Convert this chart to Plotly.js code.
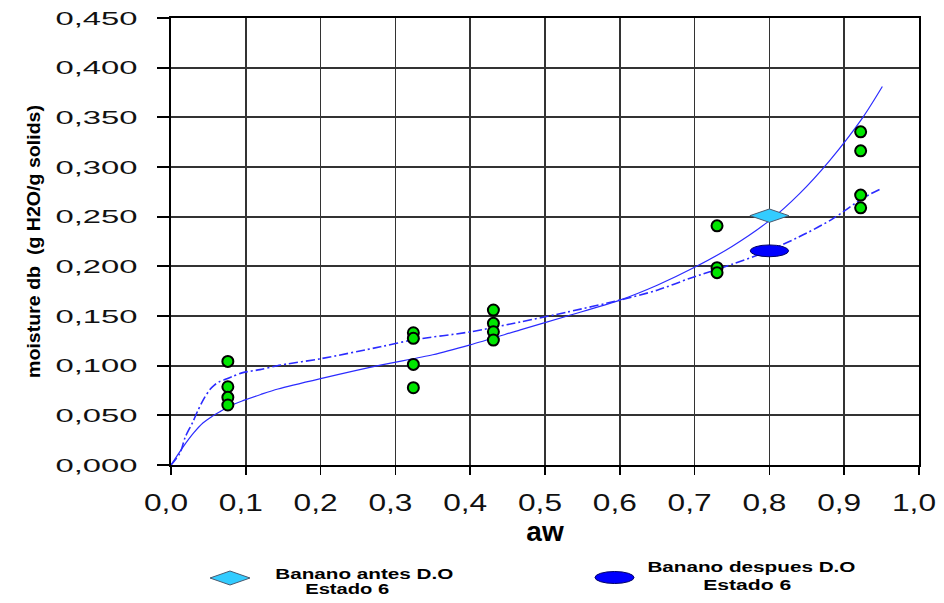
<!DOCTYPE html>
<html>
<head>
<meta charset="utf-8">
<script src="https://cdn.plot.ly/plotly-3.0.1.min.js"></script>
<style>
  html, body { margin: 0; padding: 0; background: #ffffff; }
  #chart { width: 944px; height: 603px; }
</style>
</head>
<body>
<div id="chart"></div>
<script>
// ---------------- DATA ----------------
// experimental points (aw, moisture db)
const expAw = [0.076, 0.076, 0.076, 0.076,
               0.324, 0.324, 0.324, 0.324,
               0.431, 0.431, 0.431, 0.431,
               0.730, 0.730, 0.730,
               0.922, 0.922, 0.922, 0.922];
const expMoisture = [0.1043, 0.0788, 0.0681, 0.0604,
                     0.1331, 0.1275, 0.1013, 0.0778,
                     0.1560, 0.1426, 0.1341, 0.1258,
                     0.2408, 0.1986, 0.1936,
                     0.3354, 0.3163, 0.2717, 0.2589];

// fitted isotherm (solid line)
const fitSolidAw = [0.000, 0.016, 0.030, 0.043, 0.055, 0.066, 0.080, 0.097, 0.120, 0.143,
                    0.200, 0.280, 0.350, 0.400, 0.467, 0.530, 0.600, 0.650, 0.700, 0.750,
                    0.800, 0.840, 0.880, 0.925, 0.951];
const fitSolidMoisture = [0.000, 0.018, 0.032, 0.0425, 0.049, 0.054, 0.060, 0.065, 0.071, 0.0765,
                          0.087, 0.1006, 0.111, 0.121, 0.136, 0.150, 0.166, 0.181, 0.199, 0.220,
                          0.246, 0.273, 0.306, 0.350, 0.381];

// second fitted isotherm (dash-dot line)
const fitDashAw = [0.000, 0.012, 0.019, 0.029, 0.036, 0.045, 0.052, 0.058, 0.064, 0.072,
                   0.082, 0.096, 0.119, 0.142, 0.200, 0.280, 0.324, 0.400, 0.467, 0.530,
                   0.600, 0.650, 0.694, 0.750, 0.800, 0.850, 0.885, 0.925, 0.948];
const fitDashMoisture = [0.000, 0.012, 0.028, 0.043, 0.055, 0.068, 0.076, 0.0805, 0.0835, 0.086,
                         0.089, 0.093, 0.096, 0.100, 0.107, 0.119, 0.126, 0.134, 0.144, 0.154,
                         0.166, 0.176, 0.188, 0.202, 0.216, 0.2335, 0.248, 0.2686, 0.2777];

// single samples
const antesLabel = "Banano antes D.O";
const antesSub = "Estado 6";
const antesAw = [0.80];
const antesMoisture = [0.251];

const despuesLabel = "Banano despues D.O";
const despuesSub = "Estado 6";
const despuesAw = [0.80];
const despuesMoisture = [0.2156];

const xTickVals = [0, 0.1, 0.2, 0.3, 0.4, 0.5, 0.6, 0.7, 0.8, 0.9, 1.0];
const yTickVals = [0, 0.05, 0.1, 0.15, 0.2, 0.25, 0.3, 0.35, 0.4, 0.45];

// ---------------- LAYOUT HELPERS ----------------
const W = 944, H = 603;
const M = { l: 171, r: 25, t: 18, b: 138 };
const plotW = W - M.l - M.r, plotH = H - M.t - M.b;
const X_RANGE = [0, 1], Y_RANGE = [0, 0.45];
const px = p => (p - M.l) / plotW;           // pixel -> paper x
const py = p => (H - M.b - p) / plotH;       // pixel -> paper y
const dxPx = p => p * (X_RANGE[1] - X_RANGE[0]) / plotW;  // pixel length -> data x
const dyPx = p => p * (Y_RANGE[1] - Y_RANGE[0]) / plotH;  // pixel length -> data y

const FONT = "Liberation Sans, Arial, sans-serif";
const DIAMOND_FILL = "#33ccff", DIAMOND_LINE = "#4a5a70";
const ELLIPSE_FILL = "#0000ff", ELLIPSE_LINE = "#000066";

// ---------------- TRACES ----------------
const traces = [
  {
    x: fitSolidAw, y: fitSolidMoisture, type: "scatter", mode: "lines",
    line: { color: "#2b2bff", width: 1.2, shape: "spline", smoothing: 0.8 },
    hoverinfo: "skip", showlegend: false
  },
  {
    x: fitDashAw, y: fitDashMoisture, type: "scatter", mode: "lines",
    line: { color: "#2b2bff", width: 1.6, dash: "9px,3px,2px,3px", shape: "spline", smoothing: 0.8 },
    hoverinfo: "skip", showlegend: false
  },
  {
    x: expAw, y: expMoisture, type: "scatter", mode: "markers",
    marker: { symbol: "circle", size: 11, color: "#00e600", line: { color: "#000000", width: 2 } },
    showlegend: false, cliponaxis: false
  }
];

// ---------------- SHAPES (sample markers built from the data) ----------------
function diamondPath(cx, cy, hw, hh) {
  return `M ${cx - hw},${cy} L ${cx},${cy + hh} L ${cx + hw},${cy} L ${cx},${cy - hh} Z`;
}
const shapes = [];
antesAw.forEach((a, i) => {
  shapes.push({
    type: "path", xref: "x", yref: "y", layer: "above",
    path: diamondPath(a, antesMoisture[i], dxPx(19.5), dyPx(6.7)),
    fillcolor: DIAMOND_FILL, line: { color: DIAMOND_LINE, width: 1 }
  });
});
despuesAw.forEach((a, i) => {
  shapes.push({
    type: "circle", xref: "x", yref: "y", layer: "above",
    x0: a - dxPx(19.2), x1: a + dxPx(19.2),
    y0: despuesMoisture[i] - dyPx(5.9), y1: despuesMoisture[i] + dyPx(5.9),
    fillcolor: ELLIPSE_FILL, line: { color: ELLIPSE_LINE, width: 1 }
  });
});
// legend symbols
shapes.push({
  type: "path", xref: "paper", yref: "paper",
  path: `M ${px(210)},${py(578)} L ${px(230)},${py(571)} L ${px(250)},${py(578)} L ${px(230)},${py(585)} Z`,
  fillcolor: DIAMOND_FILL, line: { color: DIAMOND_LINE, width: 1 }
});
shapes.push({
  type: "circle", xref: "paper", yref: "paper",
  x0: px(595), x1: px(634), y0: py(583.5), y1: py(571.5),
  fillcolor: ELLIPSE_FILL, line: { color: ELLIPSE_LINE, width: 1 }
});

// ---------------- LEGEND TEXT ----------------
const legendFont = { family: FONT, size: 14, color: "#000000" };
const annotations = [
  { text: antesLabel, x: px(364), y: py(573.5), len: 178 },
  { text: antesSub, x: px(347), y: py(589), len: 84 },
  { text: despuesLabel, x: px(751), y: py(566.5), len: 208 },
  { text: despuesSub, x: px(747.5), y: py(585), len: 88 }
].map(a => ({
  text: "<b>" + a.text + "</b>", x: a.x, y: a.y, xref: "paper", yref: "paper",
  xanchor: "center", yanchor: "middle", showarrow: false, font: legendFont,
  _len: a.len
}));
const annLens = annotations.map(a => a._len);
annotations.forEach(a => delete a._len);

// ---------------- LAYOUT ----------------
const layout = {
  width: W, height: H,
  margin: M,
  paper_bgcolor: "#ffffff", plot_bgcolor: "#ffffff",
  separators: ",.",
  showlegend: false,
  font: { family: FONT, color: "#000000" },
  xaxis: {
    range: X_RANGE, tickvals: xTickVals, tickformat: ".1f",
    showgrid: true, gridcolor: "#333333", gridwidth: 1.7,
    showline: true, linecolor: "#000000", linewidth: 1.7, mirror: true,
    ticks: "outside", ticklen: 8, tickcolor: "#000000", tickwidth: 1.7,
    tickfont: { family: FONT, size: 23, color: "#111111" },
    ticklabelshift: -5, ticklabelstandoff: 9,
    zeroline: false, fixedrange: true,
    title: { text: "<b>aw</b>", font: { family: FONT, size: 28, color: "#000000" }, standoff: 3 }
  },
  yaxis: {
    range: Y_RANGE, tickvals: yTickVals, tickformat: ".3f",
    showgrid: true, gridcolor: "#333333", gridwidth: 1.7,
    showline: true, linecolor: "#000000", linewidth: 1.7, mirror: true,
    ticks: "outside", ticklen: 12, tickcolor: "#000000", tickwidth: 1.7,
    tickfont: { family: FONT, size: 19, color: "#111111" },
    ticklabelstandoff: 16,
    zeroline: false, fixedrange: true,
    title: { text: "<b>moisture db  (g H2O/g solids)</b>", font: { family: FONT, size: 18, color: "#000000" }, standoff: 45 }
  },
  shapes: shapes,
  annotations: annotations
};

Plotly.newPlot("chart", traces, layout, { staticPlot: true, displayModeBar: false }).then(gd => {
  const stretch = (el, len) => {
    if (!el) return;
    el.setAttribute("textLength", len);
    el.setAttribute("lengthAdjust", "spacingAndGlyphs");
  };
  gd.querySelectorAll(".xtick text").forEach(t => stretch(t, 44));
  gd.querySelectorAll(".ytick text").forEach(t => stretch(t, 82));
  stretch(gd.querySelector(".ytitle"), 273);
  gd.querySelectorAll(".annotation-text").forEach((t, i) => stretch(t, annLens[i]));
});
</script>
</body>
</html>
